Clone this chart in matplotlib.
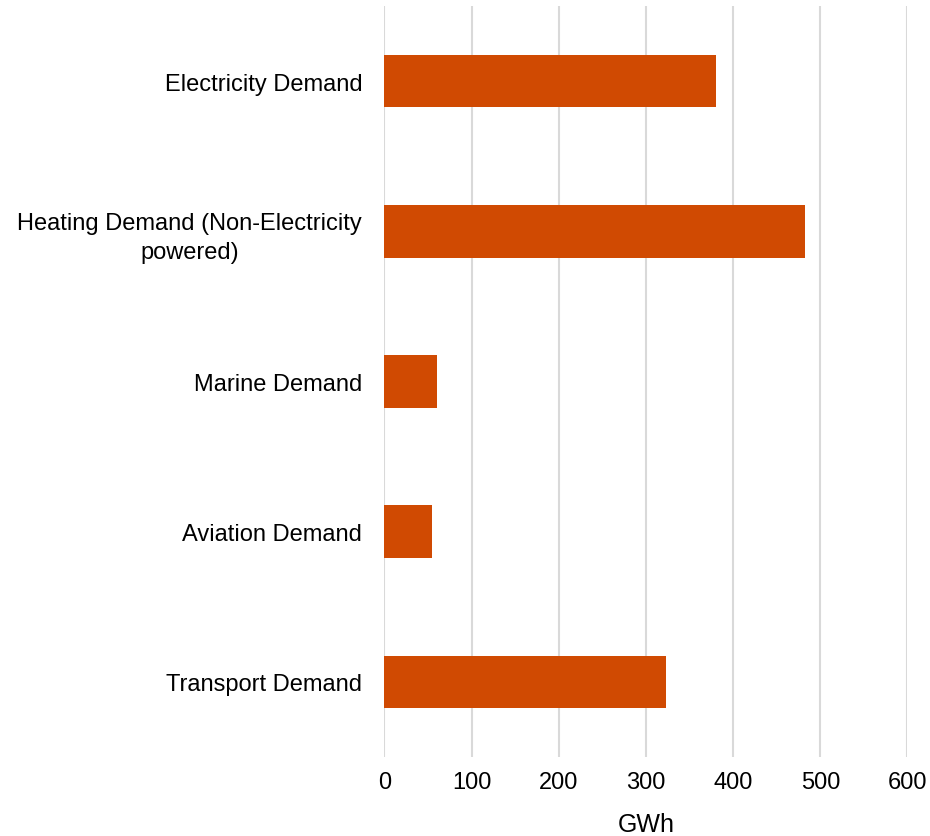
import matplotlib.pyplot as plt

plt.rcParams['font.family'] = ['Liberation Sans', 'DejaVu Sans']

# demand categories (top to bottom) and values in GWh
categories = ['Electricity Demand', 'Heating Demand (Non-Electricity\npowered)',
              'Marine Demand', 'Aviation Demand', 'Transport Demand']
values = [380, 482, 60, 54, 323]
x_ticks = [0, 100, 200, 300, 400, 500, 600]

bar_color = '#D04A02'
grid_color = '#D9D9D9'

fig = plt.figure(figsize=(9.3, 8.37), dpi=100)
ax = fig.add_axes([0.4134, 0.0944, 0.5624, 0.8972])

pos = list(range(len(categories)))
ax.barh(pos, values, height=0.35, color=bar_color, zorder=3)

ax.set_ylim(len(categories) - 0.5, -0.5)
ax.set_xlim(0, 600)
ax.set_xticks(x_ticks)
ax.set_xticklabels([str(t) for t in x_ticks], fontsize=17)
ax.set_yticks(pos)
ax.set_yticklabels(categories, fontsize=17, multialignment='center')
for lbl in ax.get_yticklabels():
    lbl.set_linespacing(1.45)

ax.tick_params(axis='y', length=0, pad=16)
ax.tick_params(axis='x', length=0, pad=10)
ax.grid(axis='x', color=grid_color, linewidth=1.5, zorder=0)
for s in ax.spines.values():
    s.set_visible(False)

ax.set_xlabel('GWh', fontsize=18, labelpad=14)

fig.savefig('out.png', dpi=100)
